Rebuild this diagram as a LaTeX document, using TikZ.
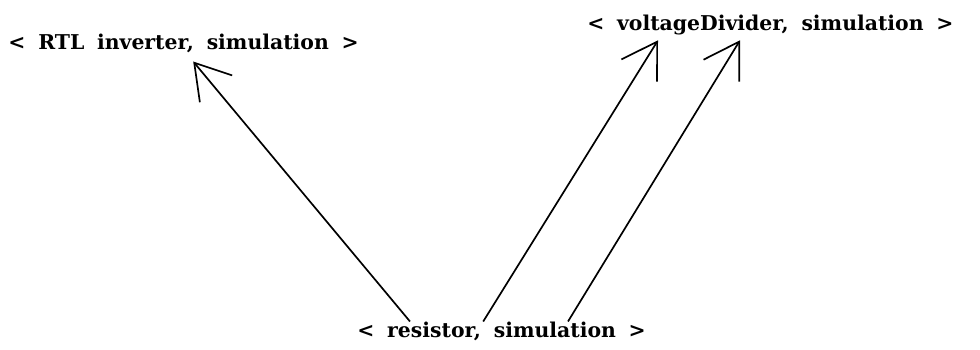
\documentclass[tikz,border=0pt]{standalone}
\usepackage{fontspec}
\setmainfont{DejaVu Serif}[WordSpace=1.8]
\usepackage{tikz}
\usetikzlibrary{arrows.meta,positioning}

\begin{document}
\begin{tikzpicture}[
  term/.style={
    inner sep=0pt, font=\fontsize{14.5}{17}\selectfont\bfseries
  },
  arrow/.style={-{Straight Barb[length=0.85cm, width=1.05cm]}, line width=1.2pt, black}
]
\useasboundingbox (0,0) rectangle (24.5,-8.75);

% Terms
\node[term] (rtl) at (4.59, -1.075) {< RTL inverter, simulation >};
\node[term] (vdiv) at (19.26, -0.63) {< voltageDivider, simulation >};
\node[term] (res) at (12.54, -8.28) {< resistor, simulation >};

% Arrows pointing upward
\draw[arrow] ([xshift=-2.29cm]res.north) -- ([xshift=0.24cm, yshift=-0.22cm]rtl.south);
\draw[arrow] ([xshift=-0.46cm]res.north) -- ([xshift=-2.81cm, yshift=-0.12cm]vdiv.south);
\draw[arrow] ([xshift=1.66cm]res.north)  -- ([xshift=-0.76cm, yshift=-0.12cm]vdiv.south);

\end{tikzpicture}
\end{document}
